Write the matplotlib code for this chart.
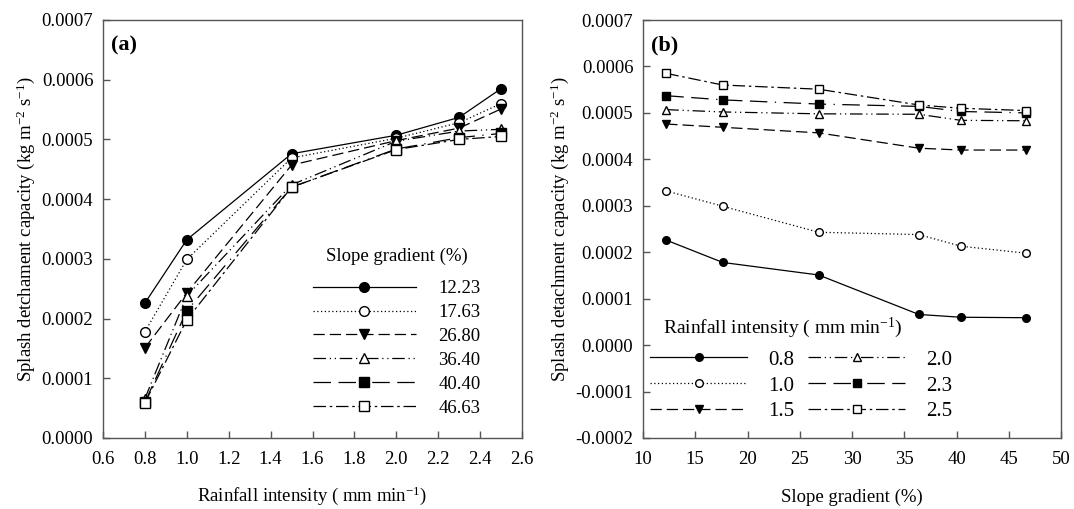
import matplotlib
matplotlib.use("Agg")
import matplotlib.pyplot as plt
import numpy as np

plt.rcParams['font.family'] = ['Liberation Serif', 'DejaVu Serif']
plt.rcParams['mathtext.fontset'] = 'custom'
plt.rcParams['mathtext.rm'] = 'Liberation Serif'
plt.rcParams['mathtext.it'] = 'Liberation Serif:italic'

# Rainfall intensity (mm/min) and slope gradient (%)
intensity = [0.8, 1.0, 1.5, 2.0, 2.3, 2.5]
slope = [12.23, 17.63, 26.80, 36.40, 40.40, 46.63]

# Splash detachment capacity (kg m-2 s-1), one list per rainfall intensity
dc_08 = [0.000226, 0.000178, 0.000151, 0.000066, 0.000060, 0.000059]
dc_10 = [0.000332, 0.000299, 0.000243, 0.000238, 0.000213, 0.000198]
dc_15 = [0.000476, 0.000469, 0.000457, 0.000424, 0.000420, 0.000420]
dc_20 = [0.000507, 0.000502, 0.000498, 0.000497, 0.000484, 0.000483]
dc_23 = [0.000537, 0.000528, 0.000519, 0.000514, 0.000503, 0.000500]
dc_25 = [0.000585, 0.000560, 0.000551, 0.000517, 0.000510, 0.000505]

dc = np.array([dc_08, dc_10, dc_15, dc_20, dc_23, dc_25])  # rows: intensity, cols: slope

intensity_labels = ['0.8', '1.0', '1.5', '2.0', '2.3', '2.5']
slope_labels = ['12.23', '17.63', '26.80', '36.40', '40.40', '46.63']

markers = ['o', 'o', 'v', '^', 's', 's']
faces = ['k', 'white', 'k', 'white', 'k', 'white']
styles = ['-', (0, (1, 2)), (0, (9, 4)), (0, (10, 3, 1, 3, 1, 3)),
          (0, (14, 6, 14, 6, 1, 6)), (0, (10, 3, 2, 3))]

fig = plt.figure(figsize=(10.74, 5.09), dpi=100)
ax1 = fig.add_axes([103/1074, 1 - 438/509, 419/1074, 418/509])
ax2 = fig.add_axes([643/1074, 1 - 438/509, 418/1074, 418/509])

fmt = lambda v, p: f"{v:.4f}"

# (a) detachment vs rainfall intensity, one line per slope
for j in range(len(slope)):
    ax1.plot(intensity, dc[:, j], color='k', lw=0.9, linestyle=styles[j],
             marker=markers[j], markerfacecolor=faces[j], markeredgecolor='k',
             markersize=7, label=slope_labels[j])
ax1.set_xlim(0.6, 2.6)
ax1.set_ylim(0, 0.0007)
ax1.set_xticks(np.arange(0.6, 2.61, 0.2))
ax1.xaxis.set_major_formatter(plt.FuncFormatter(lambda v, p: f"{v:.1f}"))
ax1.set_yticks(np.arange(0, 0.00071, 0.0001))
ax1.yaxis.set_major_formatter(plt.FuncFormatter(fmt))
ax1.set_xlabel('Rainfall intensity ( mm min$^{-1}$)', fontsize=13.5, labelpad=12)
ax1.set_ylabel('Splash detchament capacity (kg m$^{-2}$ s$^{-1}$)', fontsize=13.5, labelpad=3)
ax1.text(0.02, 0.94, '(a)', transform=ax1.transAxes, fontsize=16, fontweight='bold',
         va='center')
leg1 = ax1.legend(title='Slope gradient (%)', loc='upper left',
                  bbox_to_anchor=(0.478, 0.478), frameon=False, fontsize=13.5,
                  title_fontsize=13.5, handlelength=5.5, handletextpad=1.2,
                  labelspacing=0.36, borderpad=0)
leg1._legend_box.sep = 11

# (b) detachment vs slope gradient, one line per intensity
for i in range(len(intensity)):
    ax2.plot(slope, dc[i], color='k', lw=0.9, linestyle=styles[i],
             marker=markers[i], markerfacecolor=faces[i], markeredgecolor='k',
             markersize=5.5, label=intensity_labels[i])
ax2.set_xlim(10, 50)
ax2.set_ylim(-0.0002, 0.0007)
ax2.set_xticks(np.arange(10, 51, 5))
ax2.set_yticks(np.arange(-0.0002, 0.00071, 0.0001))
ax2.yaxis.set_major_formatter(plt.FuncFormatter(fmt))
ax2.set_xlabel('Slope gradient (%)', fontsize=13.5, labelpad=15)
ax2.set_ylabel('Splash detachment capacity (kg m$^{-2}$ s$^{-1}$)', fontsize=13.5, labelpad=3)
ax2.text(0.02, 0.94, '(b)', transform=ax2.transAxes, fontsize=16, fontweight='bold',
         va='center')
ax2.text(0.048, 0.263, 'Rainfall intensity ( mm min$^{-1}$)', transform=ax2.transAxes,
         fontsize=14, va='center', ha='left')
leg2 = ax2.legend(loc='upper left', bbox_to_anchor=(-0.008, 0.235), frameon=False,
                  ncol=2, fontsize=15, handlelength=4.65, handletextpad=1.0,
                  labelspacing=0.3, columnspacing=0.7, borderpad=0)

for ax in (ax1, ax2):
    for s in ax.spines.values():
        s.set_color('#555555')
        s.set_linewidth(1)
    ax.tick_params(direction='in', length=5, width=1, color='#555555',
                   labelsize=13.5, top=False, right=False)
    ax.tick_params(axis='x', pad=9)
    ax.tick_params(axis='y', pad=7)

fig.savefig('out.png', dpi=100)
